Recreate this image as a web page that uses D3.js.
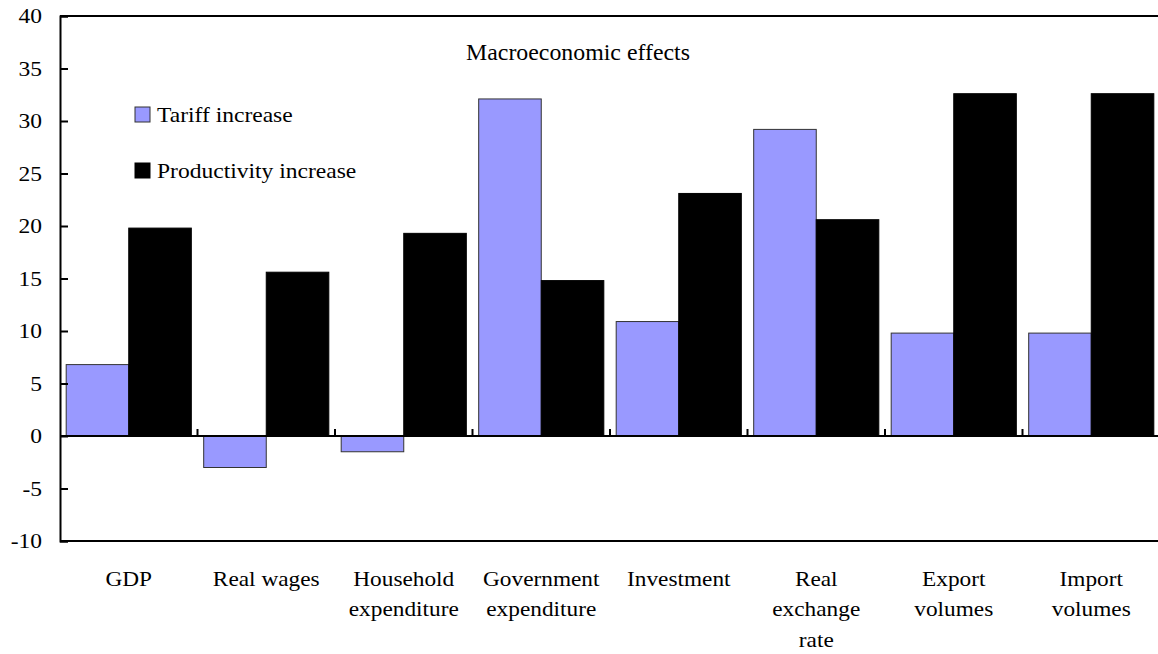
<!DOCTYPE html>
<html><head><meta charset="utf-8">
<script src="https://cdn.jsdelivr.net/npm/d3@7"></script>
<style>body{margin:0;background:#fff;} svg{display:block;}</style>
</head><body><svg id="c" width="1158" height="654"></svg>
<script>
const categories = [["GDP"],["Real wages"],["Household","expenditure"],["Government","expenditure"],["Investment"],["Real","exchange","rate"],["Export","volumes"],["Import","volumes"]];
const seriesNames = ["Tariff increase","Productivity increase"];
const tariff = [6.8,-3.0,-1.5,32.1,10.9,29.2,9.8,9.8];
const productivity = [19.8,15.6,19.3,14.8,23.1,20.6,32.6,32.6];
const yTicks = [-10,-5,0,5,10,15,20,25,30,35,40];
const colors = ["#9999FF","#000000"];

(function(){
const FONT = "'Liberation Serif', 'Times New Roman', 'DejaVu Serif', serif";
const svg = d3.select("#c");
const pLeft = 60, pRight = 1160, pTop = 16, pBottom = 541;
const y = d3.scaleLinear().domain([-10,40]).range([pBottom, pTop]);
const keys = categories.map((c,i)=>i);
const xAll = d3.scaleBand().domain(keys).range([pLeft,pRight]);
const groupW = xAll.bandwidth()*0.91;
const xs = d3.scaleBand().domain([0,1]).range([0, groupW]);
const series = [tariff, productivity];

series.forEach((vals, si) => {
  svg.append("g").selectAll("rect").data(vals).join("rect")
    .attr("x", (d,i) => xAll(i) + (xAll.bandwidth()-groupW)/2 + xs(si))
    .attr("width", xs.bandwidth())
    .attr("y", d => y(Math.max(0,d)))
    .attr("height", d => Math.abs(y(d)-y(0)))
    .attr("fill", colors[si])
    .attr("stroke", si===0 ? "#333" : "#000")
    .attr("stroke-width", 1);
});

svg.append("line").attr("x1",pLeft).attr("x2",pRight).attr("y1",pTop).attr("y2",pTop).attr("stroke","#000").attr("stroke-width",2);
svg.append("line").attr("x1",pLeft).attr("x2",pRight).attr("y1",pBottom).attr("y2",pBottom).attr("stroke","#000").attr("stroke-width",2);

const ts = 1.12;
const yAxis = d3.axisLeft(y).tickValues(yTicks).tickSize(-8).tickFormat(d => String(d));
const gy = svg.append("g").attr("transform",`translate(${pLeft},0)`).call(yAxis)
  .attr("font-family", FONT).attr("font-size", 21);
gy.select(".domain").attr("stroke","#000").attr("stroke-width",2);
gy.selectAll(".tick line").attr("stroke","#000").attr("stroke-width",2);
gy.selectAll(".tick text").attr("fill","#000").attr("x", -18/ts).attr("transform", `scale(${ts},1)`);

svg.append("line").attr("x1",pLeft).attr("x2",pRight).attr("y1",y(0)).attr("y2",y(0)).attr("stroke","#000").attr("stroke-width",2);
svg.append("g").selectAll("line").data(d3.range(1,categories.length)).join("line")
  .attr("x1", i=>xAll(i)).attr("x2", i=>xAll(i))
  .attr("y1", y(0)).attr("y2", y(0)-7).attr("stroke","#000").attr("stroke-width",2);

const s = 1.06;
const lab = svg.append("g").attr("font-family", FONT).attr("font-size", 22);
categories.forEach((lines,i) => {
  const cx = xAll(i)+xAll.bandwidth()/2;
  const t = lab.append("g").attr("transform", `translate(${cx},0) scale(${s},1)`)
    .append("text").attr("x", 0).attr("y", 586).attr("text-anchor","middle");
  lines.forEach((l,j) => t.append("tspan").attr("x", 0).attr("dy", j===0?0:30.5).text(l));
});

svg.append("g").attr("transform", `translate(578,0) scale(1.06,1)`)
  .append("text").attr("x",0).attr("y",60).attr("text-anchor","middle")
  .attr("font-family", FONT).attr("font-size", 22.5).text("Macroeconomic effects");

seriesNames.forEach((n,i) => {
  const yy = 107 + i*56;
  svg.append("rect").attr("x",135).attr("y",yy).attr("width",15).attr("height",15)
    .attr("fill",colors[i]).attr("stroke", i===0?"#333":"#000").attr("stroke-width",1);
  svg.append("g").attr("transform", `translate(157,0) scale(1.07,1)`)
    .append("text").attr("x",0).attr("y",yy+15.5).attr("font-family", FONT).attr("font-size", 22).text(n);
});
})();
</script></body></html>
